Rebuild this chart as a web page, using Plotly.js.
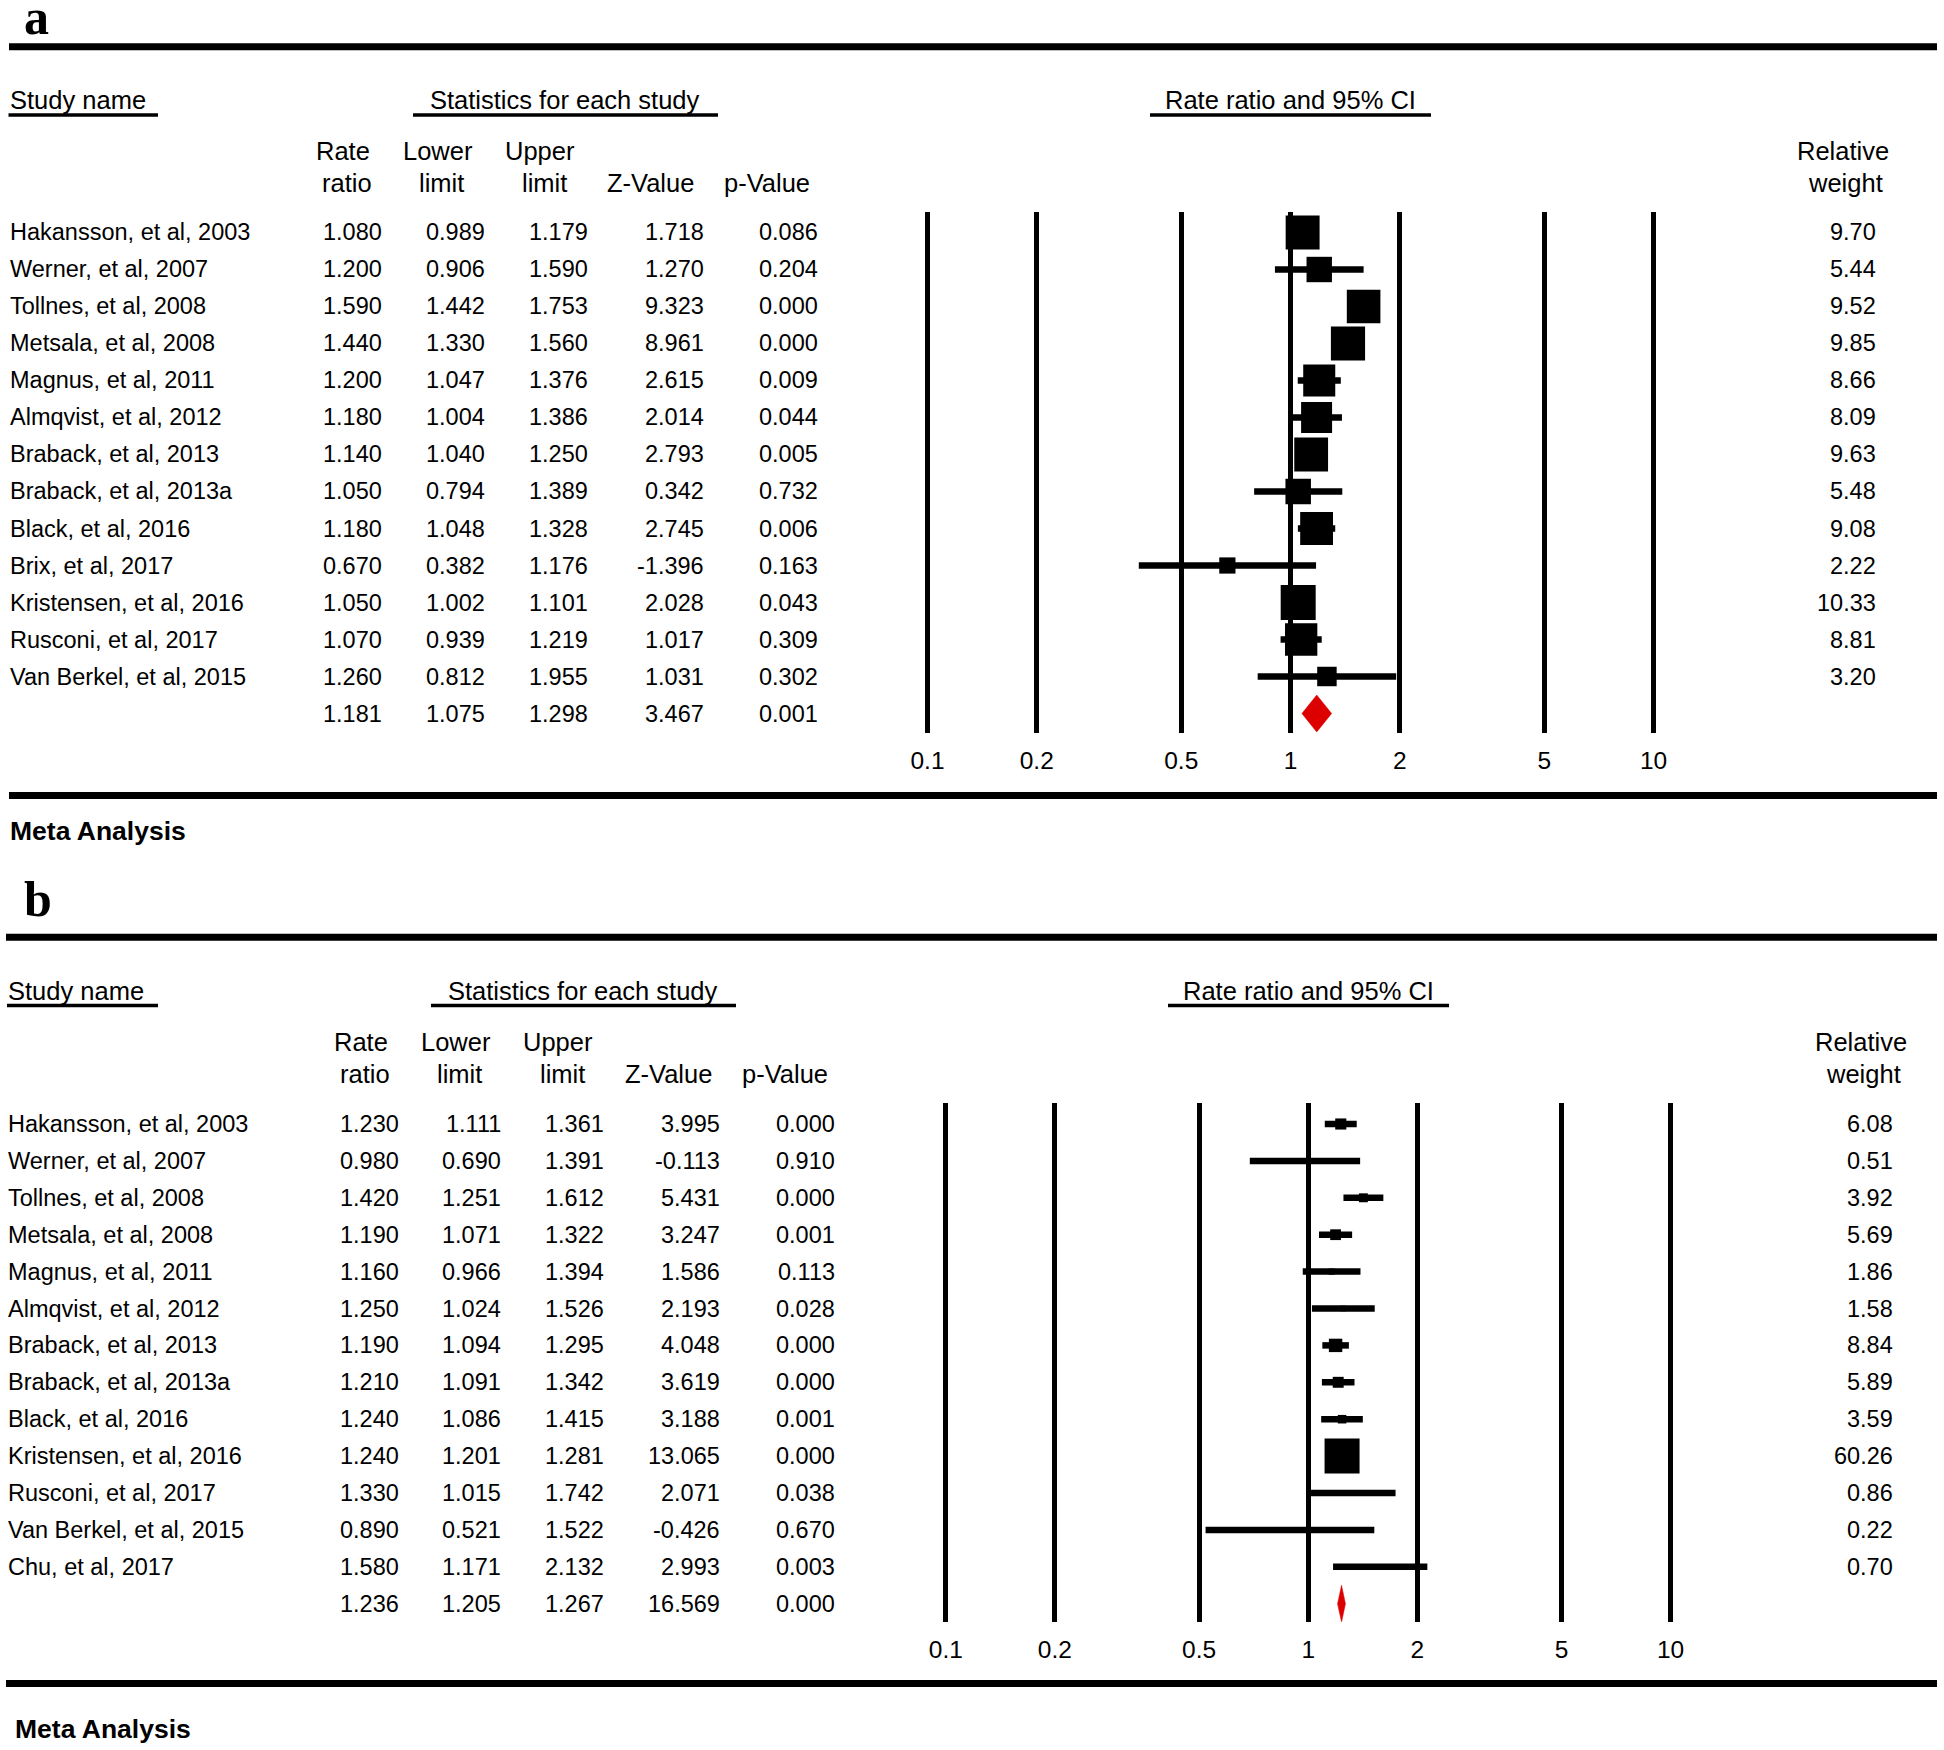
<!DOCTYPE html>
<html>
<head>
<meta charset="utf-8">
<script src="https://cdn.plot.ly/plotly-3.0.1.min.js"></script>
<style>html,body{margin:0;padding:0;background:#fff;}#chart{width:1944px;height:1750px;}</style>
</head>
<body>
<div id="chart"></div>
<script>
// ---------- DATA : panel a ----------
const namesA = ["Hakansson, et al, 2003","Werner, et al, 2007","Tollnes, et al, 2008","Metsala, et al, 2008","Magnus, et al, 2011","Almqvist, et al, 2012","Braback, et al, 2013","Braback, et al, 2013a","Black, et al, 2016","Brix, et al, 2017","Kristensen, et al, 2016","Rusconi, et al, 2017","Van Berkel, et al, 2015"];
const rrA = [1.080,1.200,1.590,1.440,1.200,1.180,1.140,1.050,1.180,0.670,1.050,1.070,1.260];
const loA = [0.989,0.906,1.442,1.330,1.047,1.004,1.040,0.794,1.048,0.382,1.002,0.939,0.812];
const upA = [1.179,1.590,1.753,1.560,1.376,1.386,1.250,1.389,1.328,1.176,1.101,1.219,1.955];
const zA  = ["1.718","1.270","9.323","8.961","2.615","2.014","2.793","0.342","2.745","-1.396","2.028","1.017","1.031"];
const pA  = ["0.086","0.204","0.000","0.000","0.009","0.044","0.005","0.732","0.006","0.163","0.043","0.309","0.302"];
const wA  = ["9.70","5.44","9.52","9.85","8.66","8.09","9.63","5.48","9.08","2.22","10.33","8.81","3.20"];
const sumA = {rr:1.181, lo:1.075, up:1.298, z:"3.467", p:"0.001"};

// ---------- DATA : panel b ----------
const namesB = ["Hakansson, et al, 2003","Werner, et al, 2007","Tollnes, et al, 2008","Metsala, et al, 2008","Magnus, et al, 2011","Almqvist, et al, 2012","Braback, et al, 2013","Braback, et al, 2013a","Black, et al, 2016","Kristensen, et al, 2016","Rusconi, et al, 2017","Van Berkel, et al, 2015","Chu, et al, 2017"];
const rrB = [1.230,0.980,1.420,1.190,1.160,1.250,1.190,1.210,1.240,1.240,1.330,0.890,1.580];
const loB = [1.111,0.690,1.251,1.071,0.966,1.024,1.094,1.091,1.086,1.201,1.015,0.521,1.171];
const upB = [1.361,1.391,1.612,1.322,1.394,1.526,1.295,1.342,1.415,1.281,1.742,1.522,2.132];
const zB  = ["3.995","-0.113","5.431","3.247","1.586","2.193","4.048","3.619","3.188","13.065","2.071","-0.426","2.993"];
const pB  = ["0.000","0.910","0.000","0.001","0.113","0.028","0.000","0.000","0.001","0.000","0.038","0.670","0.003"];
const wB  = ["6.08","0.51","3.92","5.69","1.86","1.58","8.84","5.89","3.59","60.26","0.86","0.22","0.70"];
const sumB = {rr:1.236, lo:1.205, up:1.267, z:"16.569", p:"0.000"};

const tickVals = [0.1,0.2,0.5,1,2,5,10];
const tickText = ["0.1","0.2","0.5","1","2","5","10"];

// ---------- LAYOUT HELPERS ----------
const W = 1944, H = 1750;
const px = x => x / W;
const py = y => 1 - y / H;
const FONT = "'Liberation Sans', Arial, sans-serif";
const SERIF = "'Liberation Serif', 'Times New Roman', serif";
const ROWF = 23.5, HEADF = 25.5;

const shapes = [];
const annotations = [];
const traces = [];

function hline(x0, x1, y, w) {
  shapes.push({type:'line', xref:'paper', yref:'paper', x0:px(x0), x1:px(x1), y0:py(y), y1:py(y), line:{color:'#000', width:w}});
}
function txt(text, x, y, anchor, size, opts) {
  opts = opts || {};
  annotations.push({text:text, xref:'paper', yref:opts.yref || 'paper', x:px(x), y:opts.yref ? y : py(y),
    xanchor:anchor, yanchor:'middle', showarrow:false, borderpad:0,
    font:{family:opts.family || FONT, size:size, color:'#000', weight: opts.weight || 'normal'}});
}

function panel(cfg) {
  const {names, rr, lo, up, z, p, w, sum, ax, ay, dx, dy, nameX, letter} = cfg;
  const yref = ay;
  // letter
  txt(letter, 23, cfg.letterY, 'left', 50, {family:SERIF, weight:'bold'});
  // top & bottom thick lines
  hline(cfg.lineX0, 1937, 46.7 + dy, 7);
  hline(cfg.lineX0, 1937, 795.5 + cfg.dyBottom, 7);
  // group headers with underlines
  txt("Study name", nameX, 100.5 + dy, 'left', HEADF);
  hline(nameX, 158, 115 + dy, 3.5);
  txt("Statistics for each study", 565 + dx, 100.5 + dy, 'center', HEADF);
  hline(413 + dx, 718 + dx, 115 + dy, 3.5);
  txt("Rate ratio and 95% CI", 1290.5 + dx, 100.5 + dy, 'center', HEADF);
  hline(1150 + dx, 1431 + dx, 115 + dy, 3.5);
  // column headers
  const hc1 = [343, 437.7, 540];
  const hc2 = [346.7, 441, 544, 650.7, 767];
  txt("Rate", hc1[0] + dx, 151.5 + dy, 'center', HEADF);
  txt("ratio", hc2[0] + dx, 183 + dy, 'center', HEADF);
  txt("Lower", hc1[1] + dx, 151.5 + dy, 'center', HEADF);
  txt("limit", hc2[1] + dx, 183 + dy, 'center', HEADF);
  txt("Upper", hc1[2] + dx, 151.5 + dy, 'center', HEADF);
  txt("limit", hc2[2] + dx, 183 + dy, 'center', HEADF);
  txt("Z-Value", hc2[3] + dx, 183 + dy, 'center', HEADF);
  txt("p-Value", hc2[4] + dx, 183 + dy, 'center', HEADF);
  txt("Relative", 1842.6 + dx, 151.5 + dy, 'center', HEADF);
  txt("weight", 1845.6 + dx, 183 + dy, 'center', HEADF);
  // rows
  const colR = [383, 485.5, 588.5, 704.5, 819.3].map(v => v + cfg.dxv);
  const fmt = v => v.toFixed(3);
  names.forEach((n, i) => {
    txt(n, nameX, i, 'left', ROWF, {yref});
    txt(fmt(rr[i]), colR[0], i, 'right', ROWF, {yref});
    txt(fmt(lo[i]), colR[1], i, 'right', ROWF, {yref});
    txt(fmt(up[i]), colR[2], i, 'right', ROWF, {yref});
    txt(z[i], colR[3], i, 'right', ROWF, {yref});
    txt(p[i], colR[4], i, 'right', ROWF, {yref});
    txt(w[i], 1877 + cfg.dxw, i, 'right', ROWF, {yref});
  });
  const k = names.length;
  txt(fmt(sum.rr), colR[0], k, 'right', ROWF, {yref});
  txt(fmt(sum.lo), colR[1], k, 'right', ROWF, {yref});
  txt(fmt(sum.up), colR[2], k, 'right', ROWF, {yref});
  txt(sum.z, colR[3], k, 'right', ROWF, {yref});
  txt(sum.p, colR[4], k, 'right', ROWF, {yref});
  // Meta Analysis
  txt("Meta Analysis", cfg.metaX, 830.5 + cfg.dyMeta, 'left', 26.5, {weight:'bold'});

  // forest marks
  const wn = w.map(Number);
  const wmax = Math.max(...wn);
  traces.push({
    type:'scatter', mode:'markers', xaxis:ax, yaxis:ay,
    x: rr, y: names.map((_, i) => i),
    marker:{symbol:'square', color:'#000', opacity:1, size: wn.map(v => 35 * Math.sqrt(v / wmax)), line:{width:0}},
    error_x:{type:'data', symmetric:false, array: up.map((u, i) => u - rr[i]), arrayminus: lo.map((l, i) => rr[i] - l),
      color:'#000', thickness:6.5, width:0},
    cliponaxis:false, hoverinfo:'skip', showlegend:false
  });
  const hh = 0.5;
  traces.push({
    type:'scatter', mode:'lines', xaxis:ax, yaxis:ay,
    x:[sum.lo, sum.rr, sum.up, sum.rr, sum.lo], y:[k, k - hh, k, k + hh, k],
    fill:'toself', fillcolor:'#dd0000', line:{color:'#dd0000', width:0.5},
    hoverinfo:'skip', showlegend:false
  });
}

panel({names:namesA, rr:rrA, lo:loA, up:upA, z:zA, p:pA, w:wA, sum:sumA,
  ax:'x', ay:'y', dx:0, dxv:0, dxw:0, dy:0, dyBottom:0, dyMeta:0, nameX:8.5, metaX:9, lineX0:9, letter:'a', letterY:17});
panel({names:namesB, rr:rrB, lo:loB, up:upB, z:zB, p:pB, w:wB, sum:sumB,
  ax:'x2', ay:'y2', dx:18, dxv:16.5, dxw:17, dy:890.5, dyBottom:888, dyMeta:898.5, nameX:7, metaX:14, lineX0:6, letter:'b', letterY:899});

function xAxis(left, right, anchor) {
  return {type:'log', range:[-1.2, 1.2], domain:[px(left), px(right)], anchor:anchor,
    tickmode:'array', tickvals:tickVals, ticktext:tickText,
    showgrid:true, gridcolor:'#000', gridwidth:5, zeroline:false, showline:false,
    ticks:'', ticklabelstandoff:11,
    tickfont:{family:FONT, size:24.5, color:'#000'}, fixedrange:true};
}
function yAxis(top, bottom, r0, r1, anchor) {
  return {domain:[py(bottom), py(top)], range:[r1, r0], anchor:anchor,
    showgrid:false, zeroline:false, showline:false, showticklabels:false, ticks:'', fixedrange:true};
}

const layout = {
  width:W, height:H, margin:{l:0, r:0, t:0, b:0},
  paper_bgcolor:'#fff', plot_bgcolor:'rgba(0,0,0,0)',
  showlegend:false,
  xaxis: xAxis(927.5 - 0.2*363, 927.5 + 2.2*363, 'y'),
  yaxis: yAxis(212, 732.7, -0.554, 13.519, 'x'),
  xaxis2: xAxis(945.8 - 0.2*362.4, 945.8 + 2.2*362.4, 'y2'),
  yaxis2: yAxis(1102.7, 1621.7, (1102.7 - 1124) / 36.9, (1621.7 - 1124) / 36.9, 'x2'),
  shapes: shapes,
  annotations: annotations
};

Plotly.newPlot('chart', traces, layout, {displayModeBar:false, staticPlot:true});
</script>
</body>
</html>
